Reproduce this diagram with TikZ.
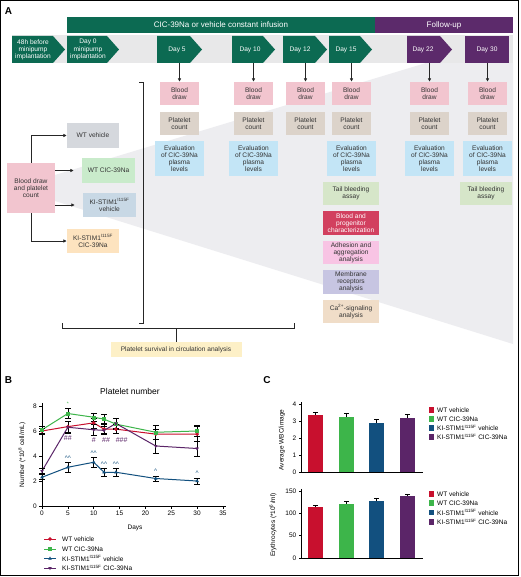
\documentclass[tikz,border=0pt]{standalone}
\usepackage{fontspec}
\setmainfont{Liberation Sans}
\usetikzlibrary{arrows.meta,plotmarks}
\definecolor{hdgreen}{HTML}{0C6A52}
\definecolor{hdpurple}{HTML}{5C2A6B}
\definecolor{band}{HTML}{E8E8E9}
\definecolor{poly}{HTML}{EDEDF0}
\definecolor{cbd}{HTML}{F2C5CF}
\definecolor{cpc}{HTML}{DCD3CA}
\definecolor{cev}{HTML}{C3E5F6}
\definecolor{ctb}{HTML}{D6E6C9}
\definecolor{cbp}{HTML}{D2405F}
\definecolor{cad}{HTML}{F8C4E4}
\definecolor{cmr}{HTML}{C7C5E2}
\definecolor{cca}{HTML}{F0DDC8}
\definecolor{cwv}{HTML}{D5D8DD}
\definecolor{cwc}{HTML}{C9EBCB}
\definecolor{ckv}{HTML}{C8D8E5}
\definecolor{ckc}{HTML}{FDE3BF}
\definecolor{cps}{HTML}{FDF0C7}
\definecolor{txt}{HTML}{333333}
\definecolor{ln}{HTML}{262626}
\definecolor{sred}{HTML}{C8102E}
\definecolor{sgreen}{HTML}{3DB54A}
\definecolor{sblue}{HTML}{12507F}
\definecolor{spurple}{HTML}{5B2568}
\newcommand\bxfont{\fontsize{6.6}{7.2}\selectfont}
\newcommand\tkfont{\fontsize{6.5}{7.5}\selectfont}
\newcommand\sig{\textsuperscript{I115F}}
\begin{document}
\begin{tikzpicture}[x=1pt,y=-1pt,
  box/.style={inner sep=0pt, align=center, font=\bxfont, text=txt},
  chev/.style={inner sep=0pt, align=center, font=\bxfont, text=white},
  arr/.style={-{Latex[length=3.5pt,width=3.6pt]}, line width=0.9pt, draw=ln},
  brk/.style={line width=0.8pt, draw=ln},
  axis/.style={line width=0.7pt, draw=black},
  tick/.style={inner sep=0.5pt, font=\tkfont},
  ebar/.style={line width=0.6pt, draw=black},
  leg/.style={inner sep=0pt, anchor=west, font=\tkfont},
  panel/.style={inner sep=0pt, font=\fontsize{10}{11}\selectfont\bfseries}]
\useasboundingbox (0,0) rectangle (520,577);
\fill[white] (0,0) rectangle (520,577);
% ---------- Panel A ----------
\node[panel] (pA) at (8.5,11) {A};
\fill[poly] (55,175) -- (426,63) -- (513,63) -- (513,344) -- (55,201) -- cycle;
\fill[band] (12,35) rectangle (513,63);
\fill[hdgreen] (67,17) rectangle (375,33);
\fill[hdpurple] (375,17) rectangle (513,33);
\node[chev, font=\fontsize{8}{9}\selectfont] (hinf) at (221,25) {CIC-39Na or vehicle constant infusion};
\node[chev, font=\fontsize{8}{9}\selectfont] (hfol) at (444,25) {Follow-up};
% chevrons
\fill[hdgreen] (12,36) -- (53,36) -- (65,49.5) -- (53,63) -- (12,63) -- cycle;
\node[chev] (c48) at (33,49.5) {48h before\\minipump\\implantation};
\fill[hdgreen] (67,36) -- (107,36) -- (119,49.5) -- (107,63) -- (67,63) -- cycle;
\node[chev] (c0) at (88,49.5) {Day 0\\minipump\\implantation};
\fill[hdgreen] (157,36) -- (190,36) -- (202,49.5) -- (190,63) -- (157,63) -- cycle;
\node[chev] (c5) at (177,49.5) {Day 5};
\fill[hdgreen] (232,36) -- (263,36) -- (275,49.5) -- (263,63) -- (232,63) -- cycle;
\node[chev] (c10) at (250,49.5) {Day 10};
\fill[hdgreen] (283,36) -- (315,36) -- (327,49.5) -- (315,63) -- (283,63) -- cycle;
\node[chev] (c12) at (300,49.5) {Day 12};
\fill[hdgreen] (329,36) -- (360,36) -- (372,49.5) -- (360,63) -- (329,63) -- cycle;
\node[chev] (c15) at (346,49.5) {Day 15};
\fill[hdpurple] (407,36) -- (440,36) -- (452,49.5) -- (440,63) -- (407,63) -- cycle;
\node[chev] (c22) at (423,49.5) {Day 22};
\fill[hdpurple] (465,36) rectangle (509,63);
\node[chev] (c30) at (487,49.5) {Day 30};
% day columns
\foreach \n/\x in {5/179.5,10/253.5,12/305.5,15/351.5,22/429.5,30/487.5} {
  \coordinate (t\n) at (\x,63);
  \node[box, fill=cbd, minimum width=39pt, minimum height=23pt] (bd\n) at (\x,93.5) {Blood\\draw};
  \node[box, fill=cpc, minimum width=39pt, minimum height=23pt] (pc\n) at (\x,123.5) {Platelet\\count};
  \draw[arr] (t\n) -- (bd\n.north);
}
\foreach \n/\x in {5/179.5,10/253.5,15/351.5,22/429.5,30/487.5} {
  \node[box, fill=cev, minimum width=49pt, minimum height=35pt] (ev\n) at (\x,158.5) {Evaluation\\of CIC-39Na\\plasma\\levels};
}
\node[box, fill=ctb, minimum width=56pt, minimum height=23pt] (tb15) at (351,193.5) {Tail bleeding\\assay};
\node[box, fill=ctb, minimum width=52pt, minimum height=23pt] (tb30) at (486,193.5) {Tail bleeding\\assay};
\node[box, fill=cbp, text=white, minimum width=56pt, minimum height=24pt] (bp15) at (351,223) {Blood and\\progenitor\\characterization};
\node[box, fill=cad, minimum width=56pt, minimum height=23pt] (ad15) at (351,252.5) {Adhesion and\\aggregation\\analysis};
\node[box, fill=cmr, minimum width=56pt, minimum height=24pt] (mr15) at (351,282) {Membrane\\receptors\\analysis};
\node[box, fill=cca, minimum width=56pt, minimum height=23pt] (ca15) at (351,311.5) {Ca\textsuperscript{2+}-signaling\\analysis};
% left groups
\node[box, fill=cbd, minimum width=48pt, minimum height=50pt] (lbd) at (31,188) {Blood draw\\and platelet\\count};
\node[box, fill=cwv, minimum width=52pt, minimum height=25pt] (wtv) at (93,135.5) {WT vehicle};
\node[box, fill=cwc, minimum width=53pt, minimum height=25pt] (wtc) at (108.5,170.5) {WT CIC-39Na};
\node[box, fill=ckv, minimum width=53pt, minimum height=24pt] (kiv) at (109.5,205) {KI-STIM1\sig\\vehicle};
\node[box, fill=ckc, minimum width=52pt, minimum height=24pt] (kic) at (93,241) {KI-STIM1\sig\\CIC-39Na};
\draw[arr] (lbd.north) |- (wtv.west);
\draw[arr, shorten >=8pt] (lbd.east |- wtc.west) -- (wtc.west);
\draw[arr, shorten >=8pt] (lbd.east |- kiv.west) -- (kiv.west);
\draw[arr] (lbd.south) |- (kic.west);
% brackets
\draw[brk] (139,82) -- (143,82) -- (143,323) -- (139,323);
\draw[brk] (62,323) -- (62,328) -- (294,328) -- (294,323);
\node[box, fill=cps, minimum width=131pt, minimum height=15pt] (ps) at (176,349.5) {Platelet survival in circulation analysis};
\coordinate (stem) at (176,328);
\draw[brk] (stem) -- (ps.north);
% ---------- Panel B ----------
\node[panel] (pB) at (8.5,380) {B};
\node[inner sep=0pt, font=\fontsize{8.5}{9}\selectfont] (bt) at (130,391) {Platelet number};
\node[inner sep=0pt, rotate=90, font=\tkfont] (byl) at (22,455) {Number (*10\textsuperscript{8} cell/mL)};
\node[inner sep=0pt, font=\tkfont] (bxl) at (135,528) {Days};
\begin{scope}[shift={(42pt,-506pt)}, x=5.17pt, y=12.5pt]
  \draw[axis] (0,8.25) -- (0,0) -- (35.6,0);
  \foreach \v in {0,2,4,6,8} {
    \draw[axis] (0,\v) -- (-0.5,\v);
    \node[tick, anchor=east] (by\v) at (-0.9,\v) {\v};
  }
  \foreach \d in {0,5,...,35} {
    \draw[axis] (\d,0) -- (\d,-0.2);
    \node[tick, anchor=north] (bx\d) at (\d,-0.35) {\d};
  }
  % lines
  \draw[sred, line width=1pt] plot coordinates {(0,6.0) (5,6.35) (10,6.65) (12,6.15) (14.3,6.15) (22,5.75) (30,5.75)};
  \draw[sgreen, line width=1pt] plot coordinates {(0,6.1) (5,7.4) (10,7.1) (12,6.95) (14.3,6.55) (22,5.9) (30,6.0)};
  \draw[spurple, line width=1pt] plot coordinates {(0,2.8) (5,6.3) (10,6.1) (12,6.05) (14.3,6.6) (22,4.8) (30,4.6)};
  \draw[sblue, line width=1pt] plot coordinates {(0,2.3) (5,3.1) (10,3.5) (12,2.7) (14.3,2.7) (22,2.2) (30,2.0)};
  % error bars
  \foreach \x/\y/\e in {0/6.0/0.25, 5/6.35/0.45, 10/6.65/0.4, 12/6.15/0.35, 14.3/6.15/0.35, 22/5.75/0.4, 30/5.75/0.6,
                        0/6.1/0.25, 5/7.4/0.4, 10/7.1/0.35, 12/6.95/0.35, 14.3/6.55/0.45, 22/5.9/0.55, 30/6.0/0.45,
                        0/2.8/0.2, 5/6.3/0.45, 10/6.1/0.45, 12/6.05/0.35, 14.3/6.6/0.4, 22/4.8/0.55, 30/4.6/0.6,
                        0/2.3/0.2, 5/3.1/0.4, 10/3.5/0.4, 12/2.7/0.35, 14.3/2.7/0.3, 22/2.2/0.2, 30/2.0/0.25} {
    \draw[ebar] (\x,\y-\e) -- (\x,\y+\e) (\x-0.55,\y-\e) -- (\x+0.55,\y-\e) (\x-0.55,\y+\e) -- (\x+0.55,\y+\e);
  }
  % markers
  \draw[sred] plot[only marks, mark=*, mark size=1.6pt] coordinates {(0,6.0) (5,6.35) (10,6.65) (12,6.15) (14.3,6.15) (22,5.75) (30,5.75)};
  \draw[sgreen] plot[only marks, mark=square*, mark size=1.5pt] coordinates {(0,6.1) (5,7.4) (10,7.1) (12,6.95) (14.3,6.55) (22,5.9) (30,6.0)};
  \draw[spurple] plot[only marks, mark=triangle*, mark size=1.6pt, mark options={rotate=180}] coordinates {(0,2.8) (5,6.3) (10,6.1) (12,6.05) (14.3,6.6) (22,4.8) (30,4.6)};
  \draw[sblue] plot[only marks, mark=triangle*, mark size=1.6pt] coordinates {(0,2.3) (5,3.1) (10,3.5) (12,2.7) (14.3,2.7) (22,2.2) (30,2.0)};
  % significance marks
  \node[inner sep=0pt, text=sgreen, font=\fontsize{5}{5}\selectfont] (sg5) at (5,8.15) {*};
  \node[inner sep=0pt, text=spurple, font=\fontsize{7}{6}\selectfont] (sp5) at (5,5.45) {\#\#};
  \node[inner sep=0pt, text=spurple, font=\fontsize{7}{6}\selectfont] (sp10) at (10,5.3) {\#};
  \node[inner sep=0pt, text=spurple, font=\fontsize{7}{6}\selectfont] (sp12) at (12.4,5.3) {\#\#};
  \node[inner sep=0pt, text=spurple, font=\fontsize{7}{6}\selectfont] (sp14) at (15.4,5.3) {\#\#\#};
  \node[inner sep=0pt, text=sblue, font=\fontsize{6.5}{6}\selectfont] (sb5) at (5,3.85) {\textasciicircum\textasciicircum};
  \node[inner sep=0pt, text=sblue, font=\fontsize{6.5}{6}\selectfont] (sb10) at (10,4.25) {\textasciicircum\textasciicircum};
  \node[inner sep=0pt, text=sblue, font=\fontsize{6.5}{6}\selectfont] (sb12) at (12,3.35) {\textasciicircum\textasciicircum};
  \node[inner sep=0pt, text=sblue, font=\fontsize{6.5}{6}\selectfont] (sb14) at (14.3,3.35) {\textasciicircum\textasciicircum};
  \node[inner sep=0pt, text=sblue, font=\fontsize{6.5}{6}\selectfont] (sb22) at (22,2.75) {\textasciicircum};
  \node[inner sep=0pt, text=sblue, font=\fontsize{6.5}{6}\selectfont] (sb30) at (30,2.6) {\textasciicircum};
\end{scope}
% legend B
\draw[sred, line width=1pt] (44,539) -- (56,539);
\draw[sred] plot[only marks, mark=*, mark size=1.6pt] coordinates {(50,539)};
\node[leg] (lb1) at (62,539) {WT vehicle};
\draw[sgreen, line width=1pt] (44,549) -- (56,549);
\draw[sgreen] plot[only marks, mark=square*, mark size=1.5pt] coordinates {(50,549)};
\node[leg] (lb2) at (62,549) {WT CIC-39Na};
\draw[sblue, line width=1pt] (44,558.5) -- (56,558.5);
\draw[sblue] plot[only marks, mark=triangle*, mark size=1.6pt] coordinates {(50,558.5)};
\node[leg] (lb3) at (62,558.5) {KI-STIM1\sig{} vehicle};
\draw[spurple, line width=1pt] (44,568) -- (56,568);
\draw[spurple] plot[only marks, mark=triangle*, mark size=1.6pt, mark options={rotate=180}] coordinates {(50,568)};
\node[leg] (lb4) at (62,568) {KI-STIM1\sig{} CIC-39Na};
% ---------- Panel C ----------
\node[panel] (pC) at (267,380) {C};
\node[inner sep=0pt, rotate=90, font=\tkfont] (cyl1) at (282,440) {Average WBC/image};
\node[inner sep=0pt, rotate=90, font=\tkfont] (cyl2) at (273,525) {Erythrocytes (*10\textsuperscript{6}/ml)};
\begin{scope}[shift={(301pt,-472pt)}, x=1pt, y=17pt]
  \draw[axis] (0,4.1) -- (0,0) -- (122,0);
  \foreach \v in {0,1,2,3,4} {
    \draw[axis] (0,\v) -- (-2.5,\v);
    \node[tick, anchor=east] (cy\v) at (-4,\v) {\v};
  }
  \foreach \a/\c/\h/\e in {7/sred/3.35/0.17, 38/sgreen/3.25/0.2, 68/sblue/2.9/0.22, 99/spurple/3.15/0.22} {
    \fill[\c] (\a,0) rectangle (\a+15,\h);
    \draw[ebar] (\a+7.5,\h) -- (\a+7.5,\h+\e) (\a+5,\h+\e) -- (\a+10,\h+\e);
  }
\end{scope}
\begin{scope}[shift={(301pt,-558pt)}, x=1pt, y=0.4467pt]
  \draw[axis] (0,155) -- (0,0) -- (122,0);
  \foreach \v in {0,50,100,150} {
    \draw[axis] (0,\v) -- (-2.5,\v);
    \node[tick, anchor=east] (cz\v) at (-4,\v) {\v};
  }
  \foreach \a/\c/\h/\e in {7/sred/114/4.5, 38/sgreen/121/6, 68/sblue/127/6, 99/spurple/138/4.5} {
    \fill[\c] (\a,0) rectangle (\a+15,\h);
    \draw[ebar] (\a+7.5,\h) -- (\a+7.5,\h+\e) (\a+5,\h+\e) -- (\a+10,\h+\e);
  }
\end{scope}
% legends C
\foreach \y/\c/\k in {410/sred/1, 419/sgreen/2, 428/sblue/3, 437/spurple/4, 494/sred/5, 503/sgreen/6, 512.5/sblue/7, 522/spurple/8} {
  \fill[\c] (429,\y-2.6) rectangle (434.2,\y+2.6);
}
\node[leg] (lc1) at (437,410) {WT vehicle};
\node[leg] (lc2) at (437,419) {WT CIC-39Na};
\node[leg] (lc3) at (437,428) {KI-STIM1\sig{} vehicle};
\node[leg] (lc4) at (437,437) {KI-STIM1\sig{} CIC-39Na};
\node[leg] (lc5) at (437,494) {WT vehicle};
\node[leg] (lc6) at (437,503) {WT CIC-39Na};
\node[leg] (lc7) at (437,512.5) {KI-STIM1\sig{} vehicle};
\node[leg] (lc8) at (437,522) {KI-STIM1\sig{} CIC-39Na};
% frame
\draw[line width=1.3pt] (0.7,0.7) rectangle (518.3,575.5);
\end{tikzpicture}
\end{document}
